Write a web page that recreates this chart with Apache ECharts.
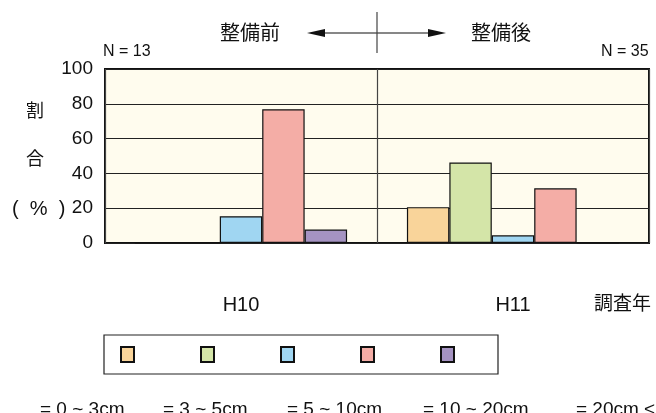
<!DOCTYPE html>
<html>
<head>
<meta charset="utf-8">
<script src="https://cdn.jsdelivr.net/npm/echarts@6/dist/echarts.min.js"></script>
<style>html,body{margin:0;padding:0;background:#fff}#c{width:656px;height:413px}</style>
</head>
<body>
<div id="c"></div>
<script>
var categories = ['H10', 'H11'];
var seriesNames = ['= 0 ~ 3cm.', '= 3 ~ 5cm.', '= 5 ~ 10cm.', '= 10 ~ 20cm.', '= 20cm <'];
var s0to3 = [0, 20.6];
var s3to5 = [0, 46.3];
var s5to10 = [15.4, 4.4];
var s10to20 = [76.9, 31.4];
var s20plus = [7.7, 0];
var yTicks = [0, 20, 40, 60, 80, 100];
var colors = ['#F9D49A', '#D4E5A8', '#A0D6F2', '#F4ADA6', '#A593C2'];

var FONT = '"Liberation Sans", Arial, "Noto Sans CJK JP", sans-serif';
var JP = '"Noto Sans CJK JP", "Liberation Sans", sans-serif';

var chart = echarts.init(document.getElementById('c'), null, {renderer: 'canvas'});
var allData = [s0to3, s3to5, s5to10, s10to20, s20plus];
var series = allData.map(function (d, i) {
  return {
    name: seriesNames[i],
    type: 'bar',
    data: d,
    barGap: '0%',
    barCategoryGap: '22%',
    itemStyle: {color: colors[i], borderColor: '#111', borderWidth: 1.2}
  };
});

var labelTexts = seriesNames.map(function (n, i) {
  var xs = [40, 163, 287, 423, 576];
  return {type: 'text', left: xs[i], top: 400, style: {text: n, font: '19px ' + FONT, fill: '#111'}};
});

chart.setOption({
  animation: false,
  backgroundColor: '#fff',
  grid: {left: 105, top: 69, right: 7, bottom: 170, show: true, backgroundColor: '#FFFCEE', borderColor: '#111', borderWidth: 2, z: 0},
  xAxis: {
    type: 'category',
    data: categories,
    axisLine: {show: false},
    axisTick: {show: false},
    splitLine: {show: true, lineStyle: {color: '#444', width: 1.2}},
    axisLabel: {margin: 52, fontSize: 20, color: '#111', fontFamily: FONT}
  },
  yAxis: {
    type: 'value',
    min: yTicks[0],
    max: yTicks[yTicks.length - 1],
    interval: 20,
    axisLine: {show: false},
    axisTick: {show: false},
    splitLine: {show: true, lineStyle: {color: '#222', width: 1}},
    axisLabel: {margin: 12, fontSize: 19, color: '#111', fontFamily: FONT}
  },
  legend: {
    left: 104, top: 335,
    padding: [11, 43, 11, 16],
    itemWidth: 13, itemHeight: 15,
    itemGap: 65,
    borderColor: '#222', borderWidth: 1.2,
    icon: 'rect',
    formatter: function () { return ''; },
    data: seriesNames
  },
  series: series,
  graphic: [
    {type: 'text', left: 220, top: 22, style: {text: '整備前', font: '20px ' + JP, fill: '#111'}},
    {type: 'text', left: 471, top: 22, style: {text: '整備後', font: '20px ' + JP, fill: '#111'}},
    {type: 'line', shape: {x1: 318, y1: 33, x2: 436, y2: 33}, style: {stroke: '#111', lineWidth: 1.2}},
    {type: 'polygon', shape: {points: [[307, 33], [325, 29], [325, 37]]}, style: {fill: '#111'}},
    {type: 'polygon', shape: {points: [[446, 33], [428, 29], [428, 37]]}, style: {fill: '#111'}},
    {type: 'line', shape: {x1: 377, y1: 12, x2: 377, y2: 53}, style: {stroke: '#444', lineWidth: 1.2}},
    {type: 'text', left: 103, top: 44, style: {text: 'N = 13', font: '16px ' + FONT, fill: '#111'}},
    {type: 'text', left: 601, top: 44, style: {text: 'N = 35', font: '16px ' + FONT, fill: '#111'}},
    {type: 'text', left: 26, top: 101, style: {text: '割', font: '18px ' + JP, fill: '#111'}},
    {type: 'text', left: 26, top: 149, style: {text: '合', font: '18px ' + JP, fill: '#111'}},
    {type: 'text', left: 12, top: 199, style: {text: '(  %  )', font: '20px ' + FONT, fill: '#111'}},
    {type: 'text', left: 594, top: 293, style: {text: '調査年', font: '19px ' + JP, fill: '#111'}}
  ].concat(labelTexts)
});
</script>
</body>
</html>
